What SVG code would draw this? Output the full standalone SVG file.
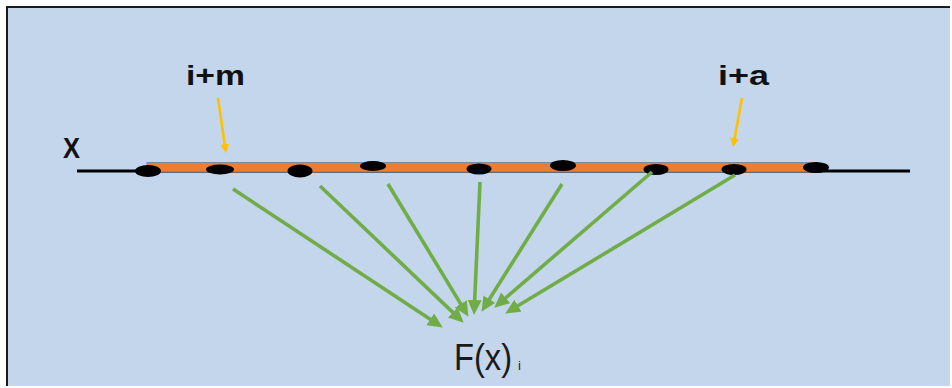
<svg xmlns="http://www.w3.org/2000/svg" width="952" height="388" viewBox="0 0 952 388">
<style>
.lbl{font-family:"Liberation Sans",Arial,sans-serif;font-weight:bold;fill:#111;}
.fx{font-family:"Liberation Sans",Arial,sans-serif;fill:#1a1a1a;}
.dot{fill:#000;}
.g{stroke:#70AD47;stroke-width:3.6;fill:none;marker-end:url(#gh);}
.y{stroke:#FFC000;stroke-width:2.6;fill:none;marker-end:url(#yh);}
</style>
<defs>
<marker id="gh" markerUnits="userSpaceOnUse" markerWidth="17" markerHeight="15" refX="4" refY="7" orient="auto" viewBox="0 0 17 15">
<path d="M0,0 L15,7 L0,14 z" fill="#70AD47"/>
</marker>
<marker id="yh" markerUnits="userSpaceOnUse" markerWidth="11" markerHeight="10" refX="3" refY="4.5" orient="auto" viewBox="0 0 11 10">
<path d="M0,0 L9,4.5 L0,9 z" fill="#FFC000"/>
</marker>
</defs>
<rect x="0" y="0" width="952" height="388" fill="#ffffff"/>
<rect x="7" y="7" width="943" height="379" fill="#C3D6EC"/>
<line x1="6" y1="7" x2="950" y2="7" stroke="#1a1a1a" stroke-width="2"/>
<line x1="7" y1="6" x2="7" y2="386" stroke="#1a1a1a" stroke-width="2"/>
<g id="axis">
<line x1="77" y1="171" x2="910" y2="171" stroke="#000" stroke-width="3"/>
<rect x="147" y="162.5" width="671" height="9" fill="#ED7D31" stroke="#7F8A99" stroke-width="1"/>
<text class="lbl" x="63" y="158" font-size="30" textLength="17" lengthAdjust="spacingAndGlyphs">X</text>
</g>
<g id="points">
<ellipse class="dot" cx="148" cy="171" rx="13" ry="6"/>
<ellipse class="dot" cx="220" cy="169.5" rx="14" ry="5"/>
<ellipse class="dot" cx="300" cy="171" rx="12.5" ry="6.5"/>
<ellipse class="dot" cx="373" cy="166" rx="13" ry="5"/>
<ellipse class="dot" cx="479" cy="169" rx="12.5" ry="5.5"/>
<ellipse class="dot" cx="563" cy="165.5" rx="13" ry="5.5"/>
<ellipse class="dot" cx="656" cy="169.5" rx="12.5" ry="5.5"/>
<ellipse class="dot" cx="734" cy="169.5" rx="12.5" ry="5.5"/>
<ellipse class="dot" cx="816" cy="167.5" rx="13" ry="5.5"/>
</g>
<g id="label-im">
<text class="lbl" x="186" y="85" font-size="28" textLength="59" lengthAdjust="spacingAndGlyphs">i+m</text>
</g>
<g id="label-ia">
<text class="lbl" x="718" y="85" font-size="28" textLength="51" lengthAdjust="spacingAndGlyphs">i+a</text>
</g>
<g id="label-fx">
<text class="fx" x="454" y="370" font-size="37" textLength="58" lengthAdjust="spacingAndGlyphs">F(x)</text>
<text class="fx" x="518" y="370" font-size="13">i</text>
</g>
<g id="connectors">
<line class="y" x1="218" y1="98" x2="225.1" y2="147.1"/>
<line class="y" x1="742" y1="98" x2="734.1" y2="141.1"/>
<line class="g" x1="233" y1="189" x2="433.6" y2="321.5"/>
<line class="g" x1="320" y1="186" x2="455.7" y2="315.1"/>
<line class="g" x1="388" y1="184" x2="462.8" y2="307.4"/>
<line class="g" x1="480" y1="182" x2="474.5" y2="304"/>
<line class="g" x1="562" y1="184" x2="487.3" y2="302.5"/>
<line class="g" x1="652" y1="172" x2="502.6" y2="300.5"/>
<line class="g" x1="735" y1="175" x2="514.6" y2="307.8"/>
</g>
</svg>
